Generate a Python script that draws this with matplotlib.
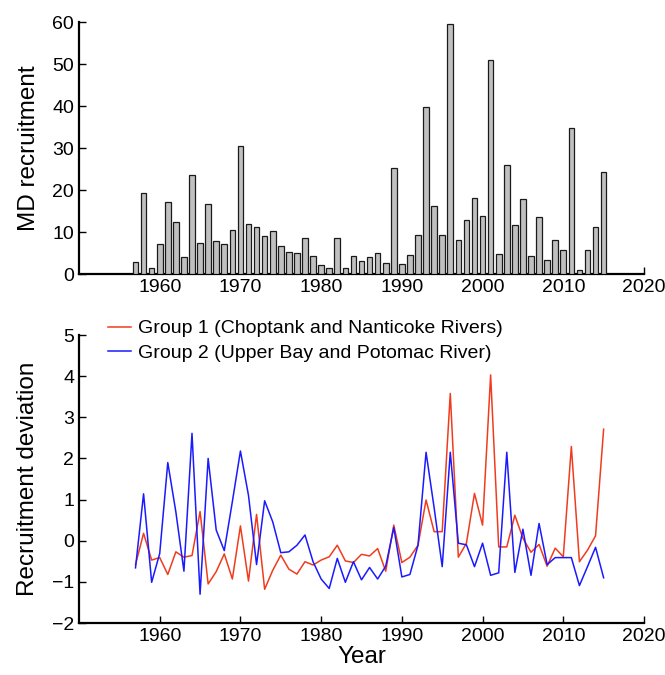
import matplotlib
matplotlib.use("Agg")
import matplotlib.pyplot as plt
import numpy as np

plt.rcParams["font.family"] = ["Liberation Sans", "DejaVu Sans"]

years = np.arange(1957, 2016)

md_recruitment = [
    2.9, 19.4, 1.5, 7.1, 17.2, 12.5, 4.1, 23.6, 7.5, 16.7,
    7.9, 7.2, 10.6, 30.6, 11.9, 11.1, 9.0, 10.3, 6.7, 5.2,
    4.9, 8.6, 4.4, 2.1, 1.5, 8.6, 1.5, 4.4, 3.1, 4.1,
    4.9, 2.7, 25.2, 2.3, 4.5, 9.2, 39.8, 16.2, 9.4, 59.6,
    8.1, 12.8, 18.2, 13.9, 51.0, 4.8, 25.9, 11.6, 17.9, 4.4,
    13.6, 3.3, 8.1, 5.7, 34.8, 1.0, 5.8, 11.3, 24.4,
]

group1 = [
    -0.58, 0.18, -0.47, -0.41, -0.82, -0.27, -0.40, -0.36, 0.71, -1.05,
    -0.75, -0.32, -0.93, 0.36, -0.98, 0.64, -1.18, -0.72, -0.35, -0.69,
    -0.81, -0.51, -0.59, -0.47, -0.39, -0.11, -0.49, -0.53, -0.33, -0.37,
    -0.19, -0.74, 0.38, -0.53, -0.40, -0.11, 0.99, 0.22, 0.22, 3.58,
    -0.40, -0.06, 1.15, 0.38, 4.03, -0.15, -0.15, 0.62, 0.06, -0.28,
    -0.09, -0.62, -0.18, -0.39, 2.29, -0.51, -0.23, 0.12, 2.71,
]

group2 = [
    -0.66, 1.14, -1.01, -0.31, 1.90, 0.70, -0.74, 2.61, -1.30, 2.00,
    0.26, -0.24, 0.95, 2.18, 1.10, -0.58, 0.97, 0.46, -0.29, -0.27,
    -0.11, 0.14, -0.51, -0.93, -1.16, -0.43, -1.01, -0.51, -0.95, -0.65,
    -0.93, -0.62, 0.32, -0.88, -0.82, -0.11, 2.15, 0.80, -0.63, 2.15,
    -0.06, -0.10, -0.63, -0.06, -0.84, -0.78, 2.15, -0.77, 0.28, -0.84,
    0.42, -0.58, -0.41, -0.41, -0.41, -1.09, -0.63, -0.16, -0.90,
]

label1 = "Group 1 (Choptank and Nanticoke Rivers)"
label2 = "Group 2 (Upper Bay and Potomac River)"


def style_axes(ax):
    for side in ["top", "right"]:
        ax.spines[side].set_visible(False)
    for side in ["left", "bottom"]:
        ax.spines[side].set_linewidth(1.6)
    ax.tick_params(direction="in", length=5, width=1, labelsize=14)
    ax.set_xlim(1950, 2020)
    ax.set_xticks(range(1960, 2021, 10))


fig = plt.figure(figsize=(6.65, 6.75), dpi=100)

# top panel: bar chart of recruitment
ax1 = fig.add_axes([0.1188, 0.594, 0.8496, 0.3733])
ax1.bar(years, md_recruitment, width=0.7, color="#c0c0c0",
        edgecolor="#1a1a1a", linewidth=0.9, zorder=3)
style_axes(ax1)
ax1.set_ylim(0, 60)
ax1.set_yticks(range(0, 61, 10))
ax1.set_ylabel("MD recruitment", fontsize=17.5, labelpad=9)

# bottom panel: recruitment deviations
ax2 = fig.add_axes([0.1188, 0.077, 0.8496, 0.4267])
ax2.plot(years, group1, color="#f03c1e", lw=1.1, label=label1)
ax2.plot(years, group2, color="#1a1aff", lw=1.1, label=label2)
style_axes(ax2)
ax2.set_ylim(-2, 5)
ax2.set_yticks(range(-2, 6))
ax2.set_ylabel("Recruitment deviation", fontsize=17.5, labelpad=9)
ax2.set_xlabel("Year", fontsize=17.5, labelpad=1)
ax2.legend(loc="upper left", bbox_to_anchor=(0.037, 1.08), frameon=False,
           fontsize=14, handlelength=1.2, handletextpad=0.36,
           labelspacing=0.35, borderaxespad=0)

fig.savefig("out.png", dpi=100)
